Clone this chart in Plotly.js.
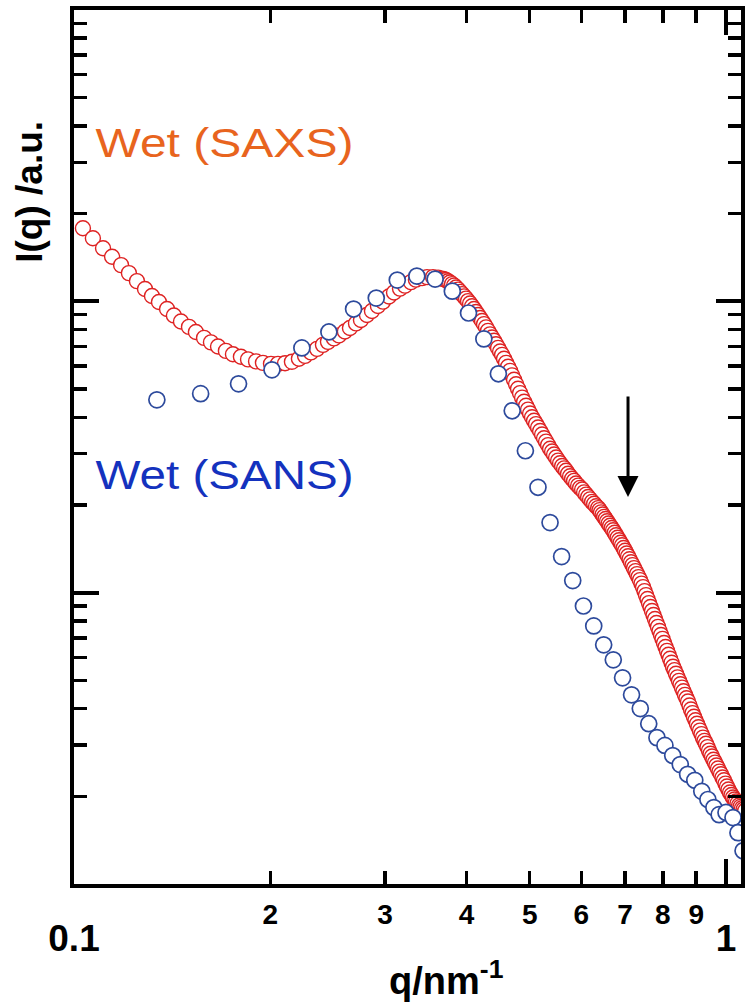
<!DOCTYPE html>
<html>
<head>
<meta charset="utf-8">
<script src="https://cdn.plot.ly/plotly-3.0.1.min.js"></script>
<style>
  html, body { margin: 0; padding: 0; background: #ffffff; }
  #chart { width: 745px; height: 1003px; }
</style>
</head>
<body>
<div id="chart"></div>
<script>
// Wet sample, SAXS: scattering vector q (nm^-1) and intensity I(q) (a.u.)
const saxsQ = [
  0.1032, 0.1069, 0.1108, 0.1144, 0.1181, 0.1214, 0.1249, 0.1285, 0.1317, 0.1350,
  0.1389, 0.1423, 0.1459, 0.1501, 0.1538, 0.1583, 0.1622, 0.1663, 0.1710, 0.1753,
  0.1803, 0.1849, 0.1902, 0.1949, 0.2005, 0.2055, 0.2107, 0.2159, 0.2213, 0.2261,
  0.2309, 0.2359,
  0.2409, 0.2452, 0.2504, 0.2549, 0.2603, 0.2650, 0.2707, 0.2755, 0.2814, 0.2864,
  0.2925, 0.2978, 0.3041, 0.3096, 0.3162, 0.3218, 0.3287, 0.3345, 0.3418, 0.3479,
  0.3553, 0.3617,
  0.3668, 0.3694, 0.3720, 0.3746, 0.3773, 0.3800, 0.3827, 0.3854, 0.3882, 0.3909,
  0.3937, 0.3965, 0.3993, 0.4021, 0.4050, 0.4079, 0.4107, 0.4136, 0.4166, 0.4196,
  0.4225, 0.4255, 0.4285, 0.4315, 0.4346, 0.4377, 0.4408, 0.4439, 0.4471, 0.4503,
  0.4535, 0.4567, 0.4599, 0.4632, 0.4665, 0.4698, 0.4731, 0.4765, 0.4798, 0.4832,
  0.4867, 0.4902, 0.4936, 0.4971, 0.5006, 0.5041, 0.5077, 0.5113, 0.5150, 0.5187,
  0.5223, 0.5260, 0.5297, 0.5335, 0.5373, 0.5411, 0.5449, 0.5488, 0.5527, 0.5566,
  0.5606, 0.5646, 0.5685, 0.5725, 0.5766, 0.5807, 0.5848, 0.5889, 0.5932, 0.5974,
  0.6016, 0.6059, 0.6102, 0.6145, 0.6188, 0.6232, 0.6277, 0.6321, 0.6366, 0.6399,
  0.6432, 0.6467, 0.6502, 0.6536, 0.6571, 0.6606, 0.6641, 0.6677, 0.6712, 0.6748,
  0.6783, 0.6819, 0.6855, 0.6891, 0.6928, 0.6965, 0.7002, 0.7039, 0.7077, 0.7113,
  0.7150, 0.7188, 0.7226, 0.7264, 0.7303, 0.7342, 0.7381, 0.7420, 0.7460, 0.7500,
  0.7539, 0.7579, 0.7619, 0.7660, 0.7700, 0.7741, 0.7782, 0.7823, 0.7865, 0.7907,
  0.7949, 0.7991, 0.8034, 0.8077, 0.8120, 0.8163, 0.8206, 0.8250, 0.8293, 0.8337,
  0.8382, 0.8426, 0.8471, 0.8516, 0.8561, 0.8606, 0.8652, 0.8698, 0.8745, 0.8791,
  0.8837, 0.8884, 0.8931, 0.8978, 0.9026, 0.9074, 0.9122, 0.9170, 0.9219, 0.9268,
  0.9317, 0.9367, 0.9417, 0.9467, 0.9517, 0.9567, 0.9618, 0.9669, 0.9721, 0.9773,
  0.9825, 0.9877, 0.9930, 0.9983, 1.0035, 1.0088, 1.0142, 1.0196, 1.0250, 1.0304,
  1.0359, 1.0414, 1.0469, 1.0525, 1.0581, 1.0638, 1.0694
];
const saxsI = [
  178.1, 164.7, 152.2, 142.3, 133.1, 125.0, 117.3, 110.2, 104.3, 99.45,
  94.1, 89.4, 85.3, 81.7, 78.5, 74.9, 72.3, 70.0, 67.6, 65.8,
  64.5, 63.2, 62.2, 61.5, 61.0, 61.0, 61.3, 62.0, 63.5, 65.0,
  66.8, 68.7,
  70.9, 72.6, 74.6, 76.4, 78.8, 81.0, 84.0, 86.3, 89.8, 92.6,
  96.4, 99.8, 103.9, 107.2, 110.6, 113.2, 116.4, 118.7, 120.1, 121.1,
  121.1, 120.6,
  119.7, 119.0, 118.3, 117.2, 116.0, 114.6, 113.2, 111.5, 109.7, 107.8,
  105.9, 104.0, 102.2, 100.2, 98.3, 96.2, 94.1, 91.9, 89.8, 87.7,
  85.6, 83.5, 81.4, 79.2, 77.0, 75.1, 73.2, 71.2, 69.2, 67.3,
  65.5, 63.5, 61.5, 59.6, 57.7, 55.7, 53.8, 51.9, 50.1, 48.4,
  46.7, 45.2, 43.8, 42.5, 41.2, 40.0, 38.9, 37.9, 36.9, 35.9,
  34.9, 33.9, 33.0, 32.1, 31.2, 30.5, 29.8, 29.1, 28.4, 27.8,
  27.2, 26.7, 26.2, 25.6, 25.1, 24.6, 24.2, 23.7, 23.3, 22.9,
  22.6, 22.1, 21.7, 21.3, 20.9, 20.5, 20.2, 19.8, 19.5, 19.2,
  18.87, 18.54, 18.21, 17.89, 17.58, 17.27, 16.97, 16.67, 16.37, 16.05,
  15.74, 15.43, 15.13, 14.84, 14.55, 14.24, 13.93, 13.63, 13.34, 13.03,
  12.72, 12.43, 12.14, 11.86, 11.58, 11.31, 11.04, 10.74, 10.45, 10.12,
  9.81, 9.51, 9.21, 8.93, 8.65, 8.38, 8.12, 7.87, 7.63, 7.39,
  7.16, 6.94, 6.72, 6.51, 6.31, 6.12, 5.93, 5.75, 5.57, 5.42,
  5.27, 5.12, 4.98, 4.85, 4.72, 4.59, 4.46, 4.34, 4.23, 4.10,
  3.97, 3.86, 3.75, 3.65, 3.55, 3.45, 3.36, 3.27, 3.18, 3.10,
  3.03, 2.95, 2.87, 2.80, 2.74, 2.67, 2.61, 2.55, 2.49, 2.43,
  2.38, 2.32, 2.27, 2.21, 2.16, 2.11, 2.06, 2.02, 1.98, 1.95,
  1.92, 1.89, 1.86, 1.84, 1.82, 1.80, 1.78
];

// Wet sample, SANS
const sansQ = [
  0.134, 0.1564, 0.1788, 0.2012, 0.2236, 0.246, 0.2684, 0.2908, 0.3132, 0.3356,
  0.358, 0.3804, 0.4028, 0.4252, 0.4476, 0.47, 0.4924, 0.5148, 0.5372, 0.5596,
  0.582, 0.6044, 0.6268, 0.6492, 0.6716, 0.694, 0.7164, 0.7388, 0.7612, 0.7836,
  0.806, 0.8284, 0.8508, 0.8732, 0.8956, 0.918, 0.938, 0.958, 0.976, 1.000,
  1.025, 1.043, 1.062
];
const sansI = [
  45.9, 48.2, 52.1, 58.2, 69.2, 78.5, 94.1, 102.6, 118.3, 122.1,
  119.2, 108.4, 91.2, 74.3, 56.4, 42.1, 30.7, 23.0, 17.4, 13.3,
  11.0, 9.0, 7.69, 6.62, 5.88, 5.10, 4.46, 4.00, 3.55, 3.18,
  2.99, 2.76, 2.57, 2.38, 2.27, 2.08, 1.95, 1.83, 1.73, 1.76,
  1.69, 1.50, 1.30
];

// Axis ticks and labels
const xMinorVals = [0.2, 0.3, 0.4, 0.5, 0.6, 0.7, 0.8, 0.9];
const xMinorText = ['2', '3', '4', '5', '6', '7', '8', '9'];
const xMajorVals = [0.1, 1];
const xMajorText = ['0.1', '1'];
const yMajorVals = [10, 100];
const yMinorVals = [2, 3, 4, 5, 6, 7, 8, 9, 20, 30, 40, 50, 60, 70, 80, 90,
                    200, 300, 400, 500, 600, 700, 800, 900];

// Marker for the shoulder in the SAXS curve
const arrowQ = 0.7075;
const arrowI = 21.3;

const FONT = 'Arial, "Liberation Sans", sans-serif';
const xRange = [-1, 0.023];

const traces = [
  {
    x: saxsQ, y: saxsI, type: 'scatter', mode: 'markers', name: 'Wet (SAXS)',
    marker: { symbol: 'circle', size: 15, color: '#ffffff',
              line: { color: '#de2222', width: 1.4 } },
    hoverinfo: 'x+y'
  },
  {
    x: sansQ, y: sansI, type: 'scatter', mode: 'markers', name: 'Wet (SANS)',
    xaxis: 'x2',
    marker: { symbol: 'circle', size: 16, color: '#ffffff',
              line: { color: '#2d4a9c', width: 1.7 } },
    hoverinfo: 'x+y'
  }
];

const layout = {
  width: 745, height: 1003,
  margin: { l: 74, r: 4, t: 10, b: 119 },
  paper_bgcolor: '#ffffff', plot_bgcolor: '#ffffff',
  showlegend: false,
  font: { family: FONT, color: '#000000' },
  xaxis: {
    type: 'log', range: xRange,
    tickmode: 'array', tickvals: xMinorVals, ticktext: xMinorText,
    ticks: 'inside', ticklen: 13, tickwidth: 3.5, tickcolor: '#000000',
    tickfont: { family: FONT, size: 28, color: '#000000', weight: 'bold' },
    ticklabelstandoff: 2,
    showline: true, linewidth: 4, linecolor: '#000000', mirror: 'ticks',
    showgrid: false, zeroline: false,
    minor: { tickmode: 'array', tickvals: xMajorVals, ticks: 'inside',
             ticklen: 25, tickwidth: 4, tickcolor: '#000000', showgrid: false }
  },
  xaxis2: {
    type: 'log', range: xRange, overlaying: 'x', anchor: 'y', side: 'bottom',
    tickmode: 'array', tickvals: xMajorVals, ticktext: xMajorText,
    ticks: '', showline: false, showgrid: false, zeroline: false,
    ticklabelstandoff: 29,
    tickfont: { family: FONT, size: 37, color: '#000000', weight: 'bold' }
  },
  yaxis: {
    type: 'log', range: [0, 3],
    tickmode: 'array', tickvals: yMajorVals, showticklabels: false,
    ticks: 'inside', ticklen: 25, tickwidth: 4, tickcolor: '#000000',
    showline: true, linewidth: 4, linecolor: '#000000', mirror: 'ticks',
    showgrid: false, zeroline: false,
    minor: { tickmode: 'array', tickvals: yMinorVals, ticks: 'inside',
             ticklen: 13, tickwidth: 3.5, tickcolor: '#000000', showgrid: false }
  },
  annotations: [
    { text: 'I(q) /a.u.', xref: 'paper', yref: 'paper', x: -0.066, y: 0.792,
      textangle: -90, showarrow: false, xanchor: 'center', yanchor: 'middle',
      font: { family: FONT, size: 37, color: '#000000', weight: 'bold' } },
    { text: 'q/nm<sup>-1</sup>', xref: 'paper', yref: 'paper', x: 0.558, y: -0.108,
      showarrow: false, xanchor: 'center', yanchor: 'middle',
      font: { family: FONT, size: 38, color: '#000000', weight: 'bold' } },
    { text: 'Wet (SAXS)', xref: 'paper', yref: 'paper', x: 0.2249, y: 0.848,
      showarrow: false, xanchor: 'center', yanchor: 'middle',
      font: { family: FONT, size: 40, color: '#e8641e' } },
    { text: 'Wet (SANS)', xref: 'paper', yref: 'paper', x: 0.2249, y: 0.468,
      showarrow: false, xanchor: 'center', yanchor: 'middle',
      font: { family: FONT, size: 40, color: '#1432be' } },
    { text: '', xref: 'x', yref: 'y', x: Math.log10(arrowQ), y: Math.log10(arrowI),
      showarrow: true, arrowhead: 2, arrowsize: 1.4, arrowwidth: 3,
      arrowcolor: '#000000', ax: 0, ay: -102 }
  ]
};

Plotly.newPlot('chart', traces, layout, { staticPlot: true }).then(function (gd) {
  // the series labels are set in a wide face: stretch them to their drawn width
  [2, 3].forEach(function (i) {
    const t = gd.querySelector('.annotation[data-index="' + i + '"] text.annotation-text');
    if (t) {
      t.setAttribute('textLength', '258');
      t.setAttribute('lengthAdjust', 'spacingAndGlyphs');
    }
  });
});
</script>
</body>
</html>
